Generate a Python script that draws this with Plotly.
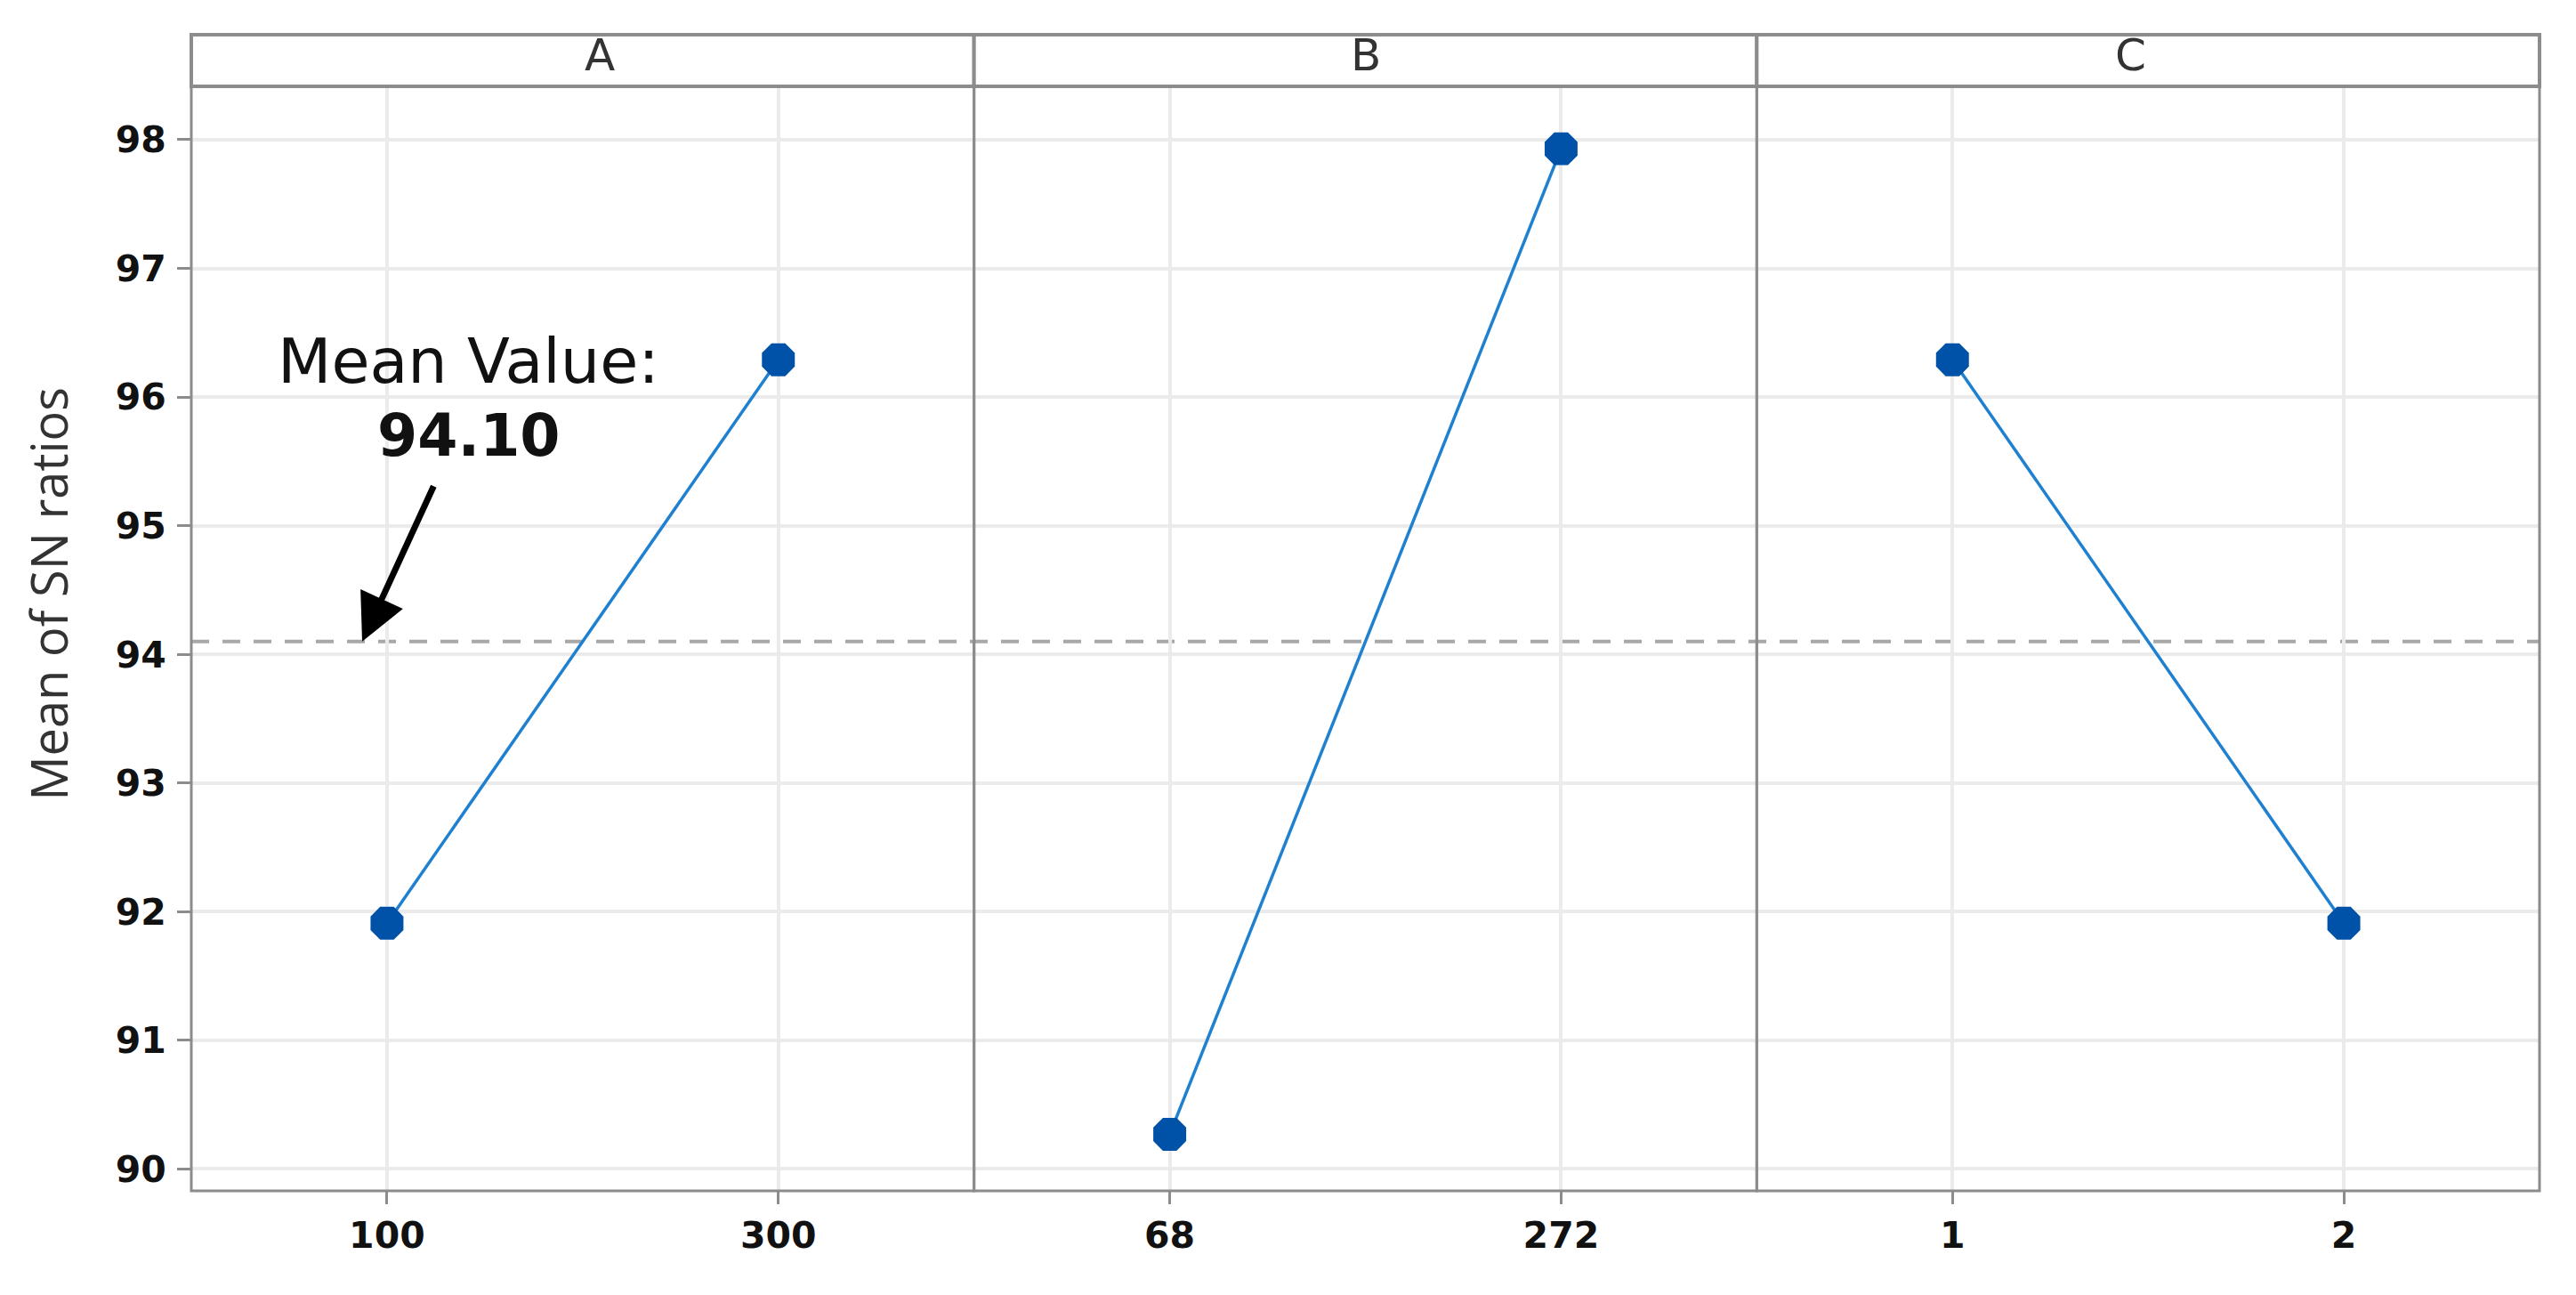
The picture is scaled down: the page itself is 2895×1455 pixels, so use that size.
import plotly.graph_objects as go
from plotly.subplots import make_subplots

# main effects plot for SN ratios
factors = ["A", "B", "C"]
levels = [["100", "300"], ["68", "272"], ["1", "2"]]
sn_means = [[91.91, 96.29], [90.27, 97.93], [96.29, 91.91]]
overall_mean = 94.10
y_ticks = [90, 91, 92, 93, 94, 95, 96, 97, 98]

W, H = 2895, 1455
FRAME = "#8c8c8c"
GRID = "#ebebeb"
TICK_FONT = dict(family="DejaVu Sans", size=41, color="#111111", weight="bold")

# the page body has an 8px margin, so margins are shifted by that
ML, MR, MT, MB = 207, 49, 89, 125
plot_h = H + 8 - MT - MB - 8
strip_top = 1 + 58 / plot_h

fig = make_subplots(rows=1, cols=3, shared_yaxes=True, horizontal_spacing=0)

for i, (lv, vals) in enumerate(zip(levels, sn_means), start=1):
    fig.add_trace(go.Scatter(
        x=lv, y=vals, mode="lines+markers",
        line=dict(color="#1f80d0", width=3.5),
        marker=dict(symbol="octagon", size=40, color="#0052a8", line=dict(width=0)),
        showlegend=False,
    ), row=1, col=i)
    fig.update_xaxes(
        type="category", range=[-0.5, 1.5], showline=False,
        showgrid=True, gridcolor=GRID, gridwidth=4,
        ticks="outside", ticklen=14, tickwidth=3, tickcolor=FRAME,
        tickfont=TICK_FONT, zeroline=False,
        row=1, col=i,
    )

fig.update_yaxes(
    range=[89.83, 98.415], tickvals=y_ticks, showline=False,
    showgrid=True, gridcolor=GRID, gridwidth=4, zeroline=False,
)
fig.update_yaxes(ticks="outside", ticklen=15, tickwidth=3, tickcolor=FRAME,
                 tickfont=TICK_FONT, ticklabelstandoff=4, row=1, col=1)

# overall mean line
fig.add_shape(type="line", xref="paper", x0=0, x1=1, yref="y",
              y0=overall_mean, y1=overall_mean, layer="between",
              line=dict(color="#a8a8a8", width=4, dash="20px,15px"))

# panel frames and facet strips
for i, name in enumerate(factors):
    dom = fig.layout["xaxis" if i == 0 else f"xaxis{i + 1}"].domain
    fig.add_shape(type="rect", xref="paper", yref="paper",
                  x0=dom[0], x1=dom[1], y0=0, y1=1,
                  line=dict(color=FRAME, width=3))
    fig.add_shape(type="rect", xref="paper", yref="paper",
                  x0=dom[0], x1=dom[1], y0=1, y1=strip_top,
                  line=dict(color=FRAME, width=4), fillcolor="white")
    fig.add_annotation(text=name, xref="paper", yref="paper",
                       x=(dom[0] + dom[1]) / 2, y=1.003, yanchor="bottom",
                       showarrow=False,
                       font=dict(family="DejaVu Sans", size=50, color="#333333"))

# y title
fig.add_annotation(text="Mean of SN ratios", xref="paper", yref="paper",
                   x=(54 - 215) / 2639, y=0.54, textangle=-90,
                   showarrow=False, xanchor="center", yanchor="middle",
                   font=dict(family="Open Sans", size=56, color="#333333"))

# mean value callout
fig.add_annotation(text="Mean Value:", x=0.209, y=96.28, xref="x", yref="y",
                   showarrow=False, font=dict(family="DejaVu Sans", size=70, color="#111111"))
fig.add_annotation(text="<b>94.10</b>", x=0.209, y=95.70, xref="x", yref="y",
                   showarrow=False, font=dict(family="DejaVu Sans", size=65, color="#111111"))
fig.add_annotation(text="", x=-0.0634, y=overall_mean, xref="x", yref="y",
                   ax=81, ay=-176, showarrow=True, arrowhead=2, arrowsize=1.5,
                   arrowwidth=7, arrowcolor="#000000")

fig.update_layout(
    width=W, height=H,
    margin=dict(l=ML, r=MR, t=MT, b=MB),
    paper_bgcolor="white", plot_bgcolor="white",
)

fig.write_html("out.html")
